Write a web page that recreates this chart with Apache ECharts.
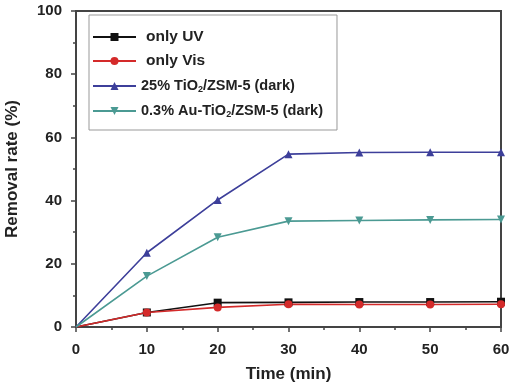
<!DOCTYPE html>
<html><head><meta charset="utf-8">
<script src="https://cdn.jsdelivr.net/npm/echarts@6/dist/echarts.min.js"></script>
<style>html,body{margin:0;padding:0;background:#fff}#c{width:512px;height:389px}</style>
</head><body><div id="c"></div>
<script>
const times = [0, 10, 20, 30, 40, 50, 60];
const onlyUV = [0, 4.6, 7.7, 7.8, 7.9, 7.9, 8.0];
const onlyVis = [0, 4.6, 6.2, 7.2, 7.1, 7.1, 7.2];
const tio2 = [0, 23.5, 40.2, 54.7, 55.2, 55.3, 55.3];
const auTio2 = [0, 16.1, 28.4, 33.5, 33.7, 33.9, 34.0];
const seriesNames = ['only UV', 'only Vis', '25% TiO2/ZSM-5 (dark)', '0.3% Au-TiO2/ZSM-5 (dark)'];

const chart = echarts.init(document.getElementById('c'));
const font = 'Liberation Sans, Arial, sans-serif';
function mk(name, vals, color, symbol, rot) {
  return {
    name, type: 'line', symbol, symbolSize: 8, symbolRotate: rot || 0,
    lineStyle: {color, width: 1.6}, itemStyle: {color},
    data: times.map((t, i) => i === 0 ? {value: [t, vals[i]], symbolSize: 0} : [t, vals[i]])
  };
}
const legendFmt = {
  'only UV': '{big|only UV}',
  'only Vis': '{big|only Vis}',
  '25% TiO2/ZSM-5 (dark)': '{sm|25% TiO}{sub|2}{sm|/ZSM-5 (dark)}',
  '0.3% Au-TiO2/ZSM-5 (dark)': '{sm|0.3% Au-TiO}{sub|2}{sm|/ZSM-5 (dark)}'
};
chart.setOption({
  animation: false,
  grid: {left: 76, top: 11, right: 11, bottom: 62, show: true, borderColor: '#444', borderWidth: 2, outerBoundsMode: 'none', containLabel: false},
  legend: {
    orient: 'vertical', left: 89, top: 15, itemWidth: 43, itemHeight: 10, itemGap: 8,
    padding: [14, 14, 11, 3], borderColor: '#999', borderWidth: 1,
    data: seriesNames,
    formatter: n => legendFmt[n],
    textStyle: {
      fontFamily: font, color: '#222',
      rich: {
        big: {fontSize: 15.5, fontWeight: 'bold', fontFamily: font, color: '#222', lineHeight: 18, padding: [0, 0, 0, 5]},
        sm: {fontSize: 14.5, fontWeight: 'bold', fontFamily: font, color: '#222', lineHeight: 16},
        sub: {fontSize: 9, fontWeight: 'bold', fontFamily: font, color: '#222', lineHeight: 10, verticalAlign: 'bottom', padding: [8, 0, 0, 0]}
      }
    }
  },
  xAxis: {
    type: 'value', min: 0, max: 60, interval: 10,
    name: 'Time (min)', nameLocation: 'middle', nameGap: 39,
    nameTextStyle: {fontSize: 17, fontWeight: 'bold', fontFamily: font, color: '#222'},
    axisLine: {lineStyle: {color: '#444', width: 2}},
    axisTick: {show: true, length: 5, lineStyle: {color: '#444', width: 1.5}},
    minorTick: {show: true, splitNumber: 2, length: 3, lineStyle: {color: '#444', width: 1.5}},
    splitLine: {show: false},
    axisLabel: {fontSize: 15, fontWeight: 'bold', fontFamily: font, color: '#222', margin: 15}
  },
  yAxis: {
    type: 'value', min: 0, max: 100, interval: 20,
    name: 'Removal rate (%)', nameLocation: 'middle', nameGap: 55,
    nameTextStyle: {fontSize: 17, fontWeight: 'bold', fontFamily: font, color: '#222'},
    axisLine: {show: true, lineStyle: {color: '#444', width: 2}},
    axisTick: {show: true, length: 5, lineStyle: {color: '#444', width: 1.5}},
    minorTick: {show: true, splitNumber: 2, length: 3, lineStyle: {color: '#444', width: 1.5}},
    splitLine: {show: false},
    axisLabel: {fontSize: 15, fontWeight: 'bold', fontFamily: font, color: '#222', margin: 14}
  },
  series: [
    mk(seriesNames[0], onlyUV, '#111111', 'rect'),
    mk(seriesNames[1], onlyVis, '#d42a2a', 'circle'),
    mk(seriesNames[2], tio2, '#3d3f9a', 'triangle'),
    mk(seriesNames[3], auTio2, '#4b9a93', 'triangle', 180)
  ]
});
</script></body></html>
